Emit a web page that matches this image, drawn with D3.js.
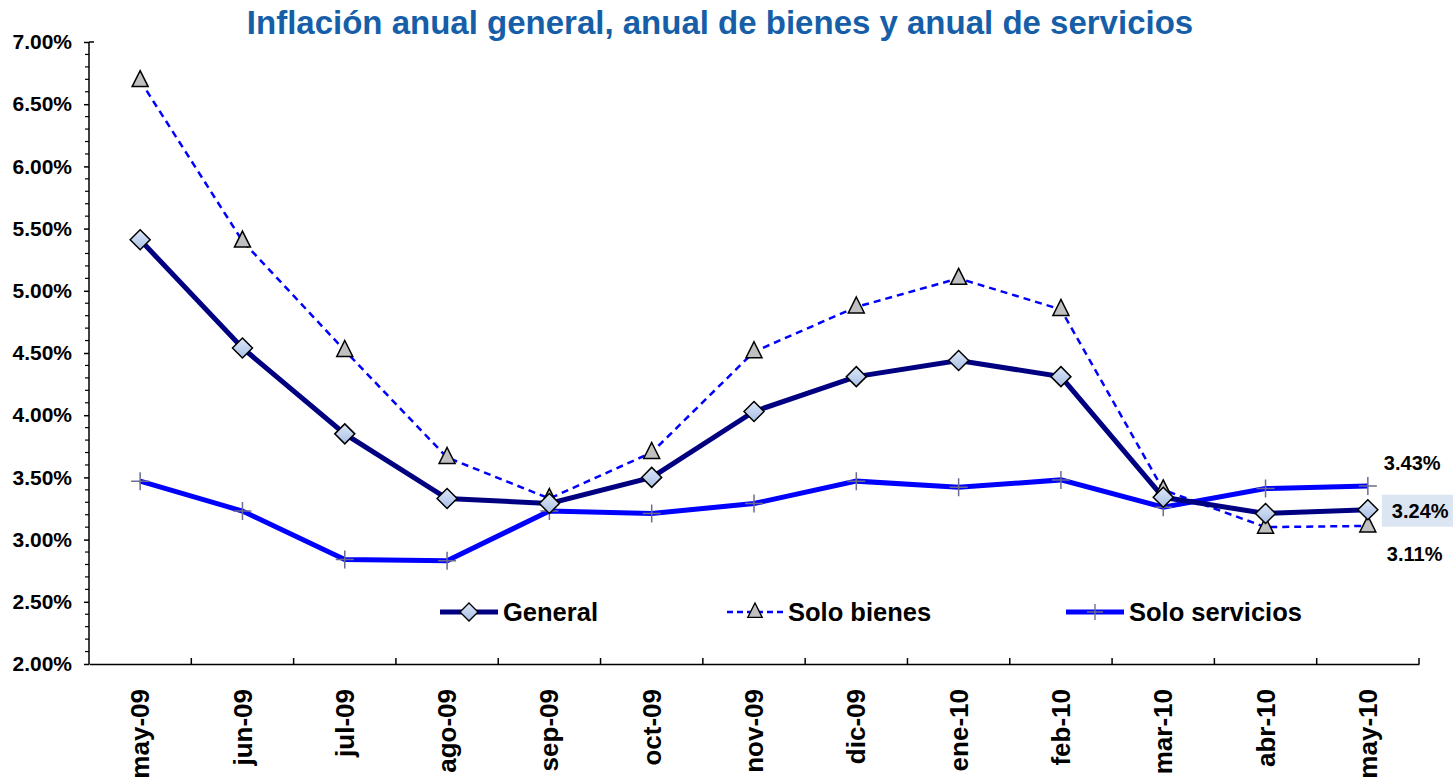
<!DOCTYPE html>
<html>
<head>
<meta charset="utf-8">
<script src="https://cdn.jsdelivr.net/npm/d3@7"></script>
<style>
  body { margin: 0; background: #fff; }
  svg { display: block; font-family: "Liberation Sans", Arial, sans-serif; }
</style>
</head>
<body>
<div id="chart"></div>
<script>
// Data
const months = ['may-09', 'jun-09', 'jul-09', 'ago-09', 'sep-09', 'oct-09', 'nov-09',
  'dic-09', 'ene-10', 'feb-10', 'mar-10', 'abr-10', 'may-10'];
const general = [5.41, 4.54, 3.85, 3.33, 3.29, 3.50, 4.03, 4.31, 4.44, 4.31, 3.34, 3.21, 3.24];
const bienes = [6.69, 5.40, 4.52, 3.66, 3.33, 3.70, 4.51, 4.87, 5.10, 4.85, 3.40, 3.10, 3.11];
const servicios = [3.47, 3.23, 2.84, 2.83, 3.23, 3.21, 3.29, 3.47, 3.42, 3.48, 3.26, 3.41, 3.43];
const yTicks = [2.0, 2.5, 3.0, 3.5, 4.0, 4.5, 5.0, 5.5, 6.0, 6.5, 7.0];

const W = 1453, H = 778;
const margin = { top: 42, right: 34, bottom: 114, left: 89 };

const svg = d3.select('#chart').append('svg')
  .attr('width', W).attr('height', H);

const g = svg.append('g')
  .attr('transform', `translate(${margin.left},${margin.top})`);
const width = W - margin.left - margin.right;
const height = H - margin.top - margin.bottom;

// Scales
const x = d3.scaleBand().domain(months).range([0, width]);
const y = d3.scaleLinear().domain([2, 7]).range([height, 0]);
const cx = d => x(d) + x.bandwidth() / 2;

// Title
svg.append('text')
  .attr('x', 720).attr('y', 34)
  .attr('text-anchor', 'middle')
  .attr('fill', '#165fa8')
  .style('font-size', '33px').style('font-weight', 'bold')
  .text('Inflación anual general, anual de bienes y anual de servicios');

// Y axis with minor ticks
const yAxis = d3.axisLeft(y)
  .tickValues(yTicks)
  .tickFormat(d => d3.format('.2f')(d) + '%')
  .tickSize(5).tickPadding(12);
const yG = g.append('g').call(yAxis);
yG.select('.domain').attr('stroke', '#000').attr('stroke-width', 1.5).attr('d', `M0,0V${height}`);
yG.selectAll('.tick line').attr('stroke', '#000').attr('stroke-width', 1.5);
yG.selectAll('.tick text').attr('fill', '#000')
  .style('font-size', '21px').style('font-weight', 'bold')
  .style('font-family', '"Liberation Sans", Arial, sans-serif');

const minor = d3.range(20, 71).map(v => v / 10).filter(v => Math.round(v * 10) % 5 !== 0);
g.append('g').selectAll('line').data(minor).join('line')
  .attr('x1', -4).attr('x2', 0)
  .attr('y1', d => y(d)).attr('y2', d => y(d))
  .attr('stroke', '#000').attr('stroke-width', 1.2);
g.append('line').attr('x1', 0).attr('x2', 5).attr('y1', 0).attr('y2', 0)
  .attr('stroke', '#000').attr('stroke-width', 1.5);

// X axis
const xAxis = d3.axisBottom(x).tickSize(0).tickPadding(0);
const xG = g.append('g').attr('transform', `translate(0,${height})`).call(xAxis);
xG.select('.domain').attr('stroke', '#000').attr('stroke-width', 1.5);
xG.selectAll('.tick text')
  .attr('transform', 'rotate(-90)')
  .attr('x', -25).attr('y', 0).attr('dy', '0.35em')
  .attr('text-anchor', 'end')
  .attr('fill', '#000')
  .style('font-size', '26px').style('font-weight', 'bold')
  .style('font-family', '"Liberation Sans", Arial, sans-serif');
// category boundary ticks pointing inside
g.append('g').selectAll('line').data(months).join('line')
  .attr('x1', d => x(d) + x.bandwidth())
  .attr('x2', d => x(d) + x.bandwidth())
  .attr('y1', height).attr('y2', height - 6)
  .attr('stroke', '#000').attr('stroke-width', 1.5);

// Lines
const line = d3.line().x((d, i) => cx(months[i])).y(d => y(d));

g.append('path').datum(servicios).attr('d', line)
  .attr('fill', 'none').attr('stroke', '#0000ff').attr('stroke-width', 5);
g.append('path').datum(bienes).attr('d', line)
  .attr('fill', 'none').attr('stroke', '#0000ff').attr('stroke-width', 2.5)
  .attr('stroke-dasharray', '7,5');
g.append('path').datum(general).attr('d', line)
  .attr('fill', 'none').attr('stroke', '#000080').attr('stroke-width', 5);

// Markers
const defs = svg.append('defs');
const grad = defs.append('linearGradient').attr('id', 'diaFill')
  .attr('x1', 0).attr('y1', 0).attr('x2', 0).attr('y2', 1);
grad.append('stop').attr('offset', '0%').attr('stop-color', '#dde8f8');
grad.append('stop').attr('offset', '100%').attr('stop-color', '#a9bfe6');

const diamond = 'M0,-10L10,0L0,10L-10,0Z';
const triangle = 'M0,-10L8,6L-8,6Z';
const plus = 'M-9,0H9M0,-9V9';

function markers(data, path, fill, stroke, sw) {
  g.append('g').selectAll('path').data(data).join('path')
    .attr('transform', (d, i) => `translate(${cx(months[i])},${y(d)})`)
    .attr('d', path)
    .attr('fill', fill).attr('stroke', stroke).attr('stroke-width', sw);
}
markers(servicios, plus, 'none', '#6b6b8f', 1.5);
markers(bienes, triangle, '#c0c0c0', '#000', 1.5);
markers(general, diamond, 'url(#diaFill)', '#000', 1.5);

// End value labels
const last = months.length - 1;
const lblX = cx(months[last]) + 16;
const endLabels = [
  { v: servicios[last], dy: -16, dx: 0, bg: false },
  { v: general[last], dy: 8, dx: 8, bg: true },
  { v: bienes[last], dy: 35, dx: 3, bg: false }
];
endLabels.forEach(l => {
  const ty = y(l.v) + l.dy;
  if (l.bg) {
    g.append('rect').attr('x', lblX - 2).attr('y', ty - 23)
      .attr('width', 72).attr('height', 32).attr('fill', '#dce6f2');
  }
  g.append('text').attr('x', lblX + l.dx).attr('y', ty)
    .style('font-size', '20px').style('font-weight', 'bold')
    .text(d3.format('.2f')(l.v) + '%');
});

// Legend
const legend = [
  { name: 'General', x: 440, len: 58, stroke: '#000080', sw: 5, dash: null, mk: diamond, fill: 'url(#diaFill)', ms: '#000' },
  { name: 'Solo bienes', x: 727, len: 56, stroke: '#0000ff', sw: 2.5, dash: '6,4', mk: triangle, fill: '#c0c0c0', ms: '#000' },
  { name: 'Solo servicios', x: 1066, len: 58, stroke: '#0000ff', sw: 5, dash: null, mk: plus, fill: 'none', ms: '#6b6b8f' }
];
const lg = svg.append('g');
legend.forEach(l => {
  const ly = 612;
  lg.append('line').attr('x1', l.x).attr('x2', l.x + l.len).attr('y1', ly).attr('y2', ly)
    .attr('stroke', l.stroke).attr('stroke-width', l.sw)
    .attr('stroke-dasharray', l.dash);
  lg.append('path').attr('transform', `translate(${l.x + l.len / 2},${ly}) scale(0.9)`)
    .attr('d', l.mk).attr('fill', l.fill).attr('stroke', l.ms).attr('stroke-width', 1.5);
  lg.append('text').attr('x', l.x + l.len + 5).attr('y', ly + 9)
    .style('font-size', '25.5px').style('font-weight', 'bold')
    .text(l.name);
});
</script>
</body>
</html>
